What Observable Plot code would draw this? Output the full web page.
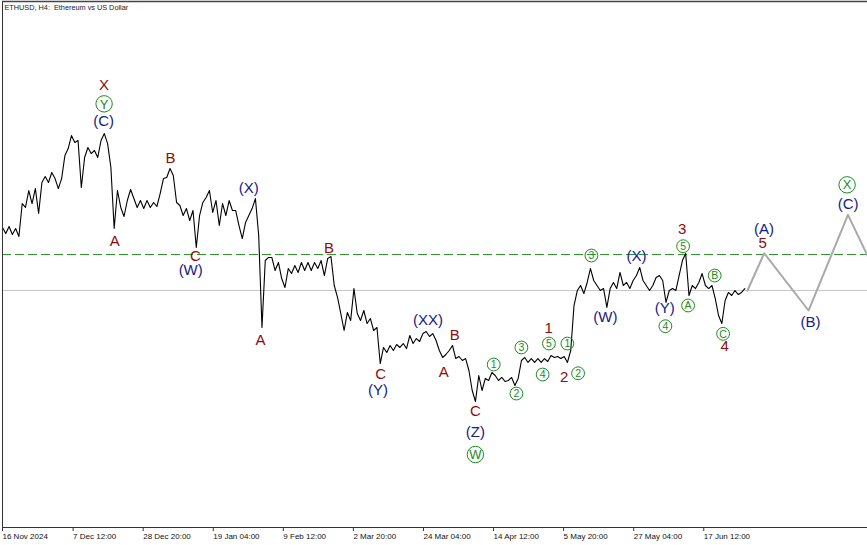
<!DOCTYPE html>
<html><head><meta charset="utf-8">
<script src="https://cdn.jsdelivr.net/npm/d3@7"></script>
<script src="https://cdn.jsdelivr.net/npm/@observablehq/plot@0.6"></script>
<style>html,body{margin:0;padding:0;background:#fff}</style>
</head><body><div id="chart"></div>
<script>
// ---- data ----
const startDate = Date.UTC(2024, 10, 16); // first bar, 16 Nov 2024
// daily ETHUSD values from 16 Nov 2024 to 30 Jun 2025
const prices = [
3150,3088,3160,3078,3139,3058,
3394,3354,3527,3394,3547,3292,
3609,3670,3609,3711,3649,3547,3649,
3884,3955,4088,4017,4037,3558,
3864,3966,3904,3935,3864,4037,4108,4006,3762,
3139,3527,3354,3262,3425,3537,3445,3354,
3425,3343,3425,3354,3405,3364,3496,3649,3660,3751,3680,
3405,3374,3272,3343,3221,3323,2946,
3272,3405,3456,3527,3303,3425,3170,3394,3272,3425,3323,
3323,3170,3037,3201,3272,3343,3445,3068,2130,
2813,2844,
2844,2711,2793,2629,2538,2731,2680,2762,2691,2793,
2711,2793,2711,2793,2731,2813,2660,2833,2854,2558,
2436,2272,2099,2283,2201,2527,2272,2201,2303,2170,
2221,2099,2130,1762,1926,1875,1946,1895,1956,1926,
1966,1915,2048,1966,2017,1987,2068,2089,2038,2068,
1997,1895,1824,1854,1895,1946,1813,1834,1793,1813,
1691,1487,1375,1640,1487,1610,1589,1671,1640,1589,
1620,1579,1589,1620,1538,1610,1793,1824,1773,1813,
1773,1813,1773,1813,1783,1844,1824,1834,1813,1834,
1773,1895,2354,2507,2558,2476,2589,2731,2609,2558,
2507,2527,2334,2527,2589,2527,2691,2558,2589,2527,
2609,2660,2742,2609,2558,2507,2558,2640,2660,2609,
2385,2507,2527,2507,2660,2813,2884,2456,2558,2527,
2589,2680,2558,2527,2558,2425,2252,2170,2405,2487,
2456,2507,2466,2487,2527
];
const tickDates = ["2024-11-16T00:00Z","2024-12-07T12:00Z","2024-12-28T20:00Z","2025-01-19T04:00Z","2025-02-09T12:00Z","2025-03-02T20:00Z","2025-03-24T04:00Z","2025-04-14T12:00Z","2025-05-05T20:00Z","2025-05-27T04:00Z","2025-06-17T12:00Z"];
const tickLabels = ["16 Nov 2024","7 Dec 12:00","28 Dec 20:00","19 Jan 04:00","9 Feb 12:00","2 Mar 20:00","24 Mar 04:00","14 Apr 12:00","5 May 20:00","27 May 04:00","17 Jun 12:00"];
const currentPrice = 2502;
const levelPrice = 2879;
const forecastDays = [226.8, 231.9, 245.4, 257.4, 263.35];
const forecastPrices = [2507, 2887, 2303, 3279, 2864];
// wave labels: [text, day offset, price]
const intermediateLabels = [
["X",30.93,4598],["A",34.16,3010],["B",51.12,3861],["C",58.73,2854],["A",78.52,1997],
["B",99.43,2943],["C",115.14,1657],["A",134.32,1674],["B",137.67,2048],["C",143.97,1276],
["1",166.29,2119],["2",170.98,1623],["3",206.9,3129],["4",219.87,1939],["5",231.44,2989]
];
const minorLabels = [
["(C)",30.81,4234],["(W)",57.30,2711],["(X)",74.96,3550],["(Y)",114.35,1487],["(XX)",129.57,2208],
["(Z)",143.97,1059],["(W)",183.55,2232],["(X)",192.99,2854],["(Y)",201.6,2323],
["(A)",231.87,3136],["(B)",245.97,2184],["(C)",257.44,3391]
];
// circled labels: [text, day offset, price, degree]
const circledLabels = [
["Y",30.93,4411,"primary"],["W",143.97,834,"primary"],["1",149.55,1752,"minute"],["2",156.46,1456,"minute"],
["3",157.98,1926,"minute"],["4",164.45,1650,"minute"],["5",166.36,1966,"minute"],["1",171.98,1966,"minute"],
["2",175.24,1663,"minute"],["3",179.29,2864,"minute"],["4",201.82,2143,"minute"],["5",207.21,2959,"minute"],
["A",208.73,2354,"minute"],["B",216.83,2660,"minute"],["C",219.39,2065,"minute"],["X",257.13,3585,"primary"]
];
const title = "ETHUSD, H4:  Ethereum vs US Dollar";

// ---- build ----
const day = d => new Date(startDate + d * 864e5);
const series = prices.map((p, i) => ({date: day(i), price: p}));
const forecast = forecastDays.map((d, i) => ({date: day(d), price: forecastPrices[i]}));
const toObj = a => ({text: a[0], date: day(a[1]), price: a[2], degree: a[3]});
const red = intermediateLabels.map(toObj);
const blue = minorLabels.map(toObj);
const circ = circledLabels.map(toObj);
const big = circ.filter(d => d.degree === "primary");
const small = circ.filter(d => d.degree !== "primary");
const ticks = tickDates.map(d => new Date(d));
const labelByTime = new Map(ticks.map((t, i) => [+t, tickLabels[i]]));
const yMin = 89.6, yMax = 5455, xEnd = day(263.35);
const font = "Liberation Sans, Arial, Helvetica, sans-serif";
const GREEN = "#1d8a1d", RED = "#8e0c0c", BLUE = "#14208c";

const chart = Plot.plot({
  width: 867, height: 545,
  marginLeft: 2, marginRight: 0, marginTop: 1, marginBottom: 18,
  style: {fontFamily: font, background: "#fff", overflow: "visible"},
  x: {type: "utc", domain: [day(0), xEnd], label: null},
  y: {domain: [yMin, yMax], axis: null},
  marks: [
    Plot.ruleY([currentPrice], {stroke: "#c8c8c8", strokeWidth: 1, shapeRendering: "crispEdges"}),
    Plot.ruleY([levelPrice], {stroke: "#2e9a2e", strokeWidth: 1, strokeDasharray: "9,4", shapeRendering: "crispEdges"}),
    Plot.line(forecast, {x: "date", y: "price", stroke: "#a9a9a9", strokeWidth: 2, clip: true}),
    Plot.line(series, {x: "date", y: "price", stroke: "#000", strokeWidth: 1.1, clip: true}),
    Plot.dot(small, {x: "date", y: "price", r: 6.4, stroke: GREEN, fill: "none", strokeWidth: 1}),
    Plot.dot(big, {x: "date", y: "price", r: 8.2, stroke: GREEN, fill: "none", strokeWidth: 1}),
    Plot.text(small, {x: "date", y: "price", text: "text", fill: GREEN, fontSize: 10.5, fontFamily: font, dy: 0.5}),
    Plot.text(big, {x: "date", y: "price", text: "text", fill: GREEN, fontSize: 13, fontFamily: font, dy: 0.5}),
    Plot.text(red, {x: "date", y: "price", text: "text", fill: RED, fontSize: 15, fontFamily: font}),
    Plot.text(blue, {x: "date", y: "price", text: "text", fill: BLUE, fontSize: 15, fontFamily: font}),
    Plot.ruleX([day(0)], {stroke: "#333", strokeWidth: 1, shapeRendering: "crispEdges"}),
    Plot.ruleY([yMax], {stroke: "#444", strokeWidth: 1.5}),
    Plot.ruleY([yMin], {stroke: "#333", strokeWidth: 1, shapeRendering: "crispEdges"}),
    Plot.axisX({ticks, tickFormat: d => labelByTime.get(+d), tickSize: 4, tickPadding: 2, textAnchor: "start", fontSize: 8, fontFamily: font, label: null, stroke: "#333", fill: "#111"}),
    Plot.text([title], {frameAnchor: "top-left", dx: 2, dy: 3, fontSize: 7.3, textAnchor: "start", lineAnchor: "top", fill: "#222", fontFamily: font})
  ]
});
document.getElementById("chart").append(chart);
</script>
</body></html>
